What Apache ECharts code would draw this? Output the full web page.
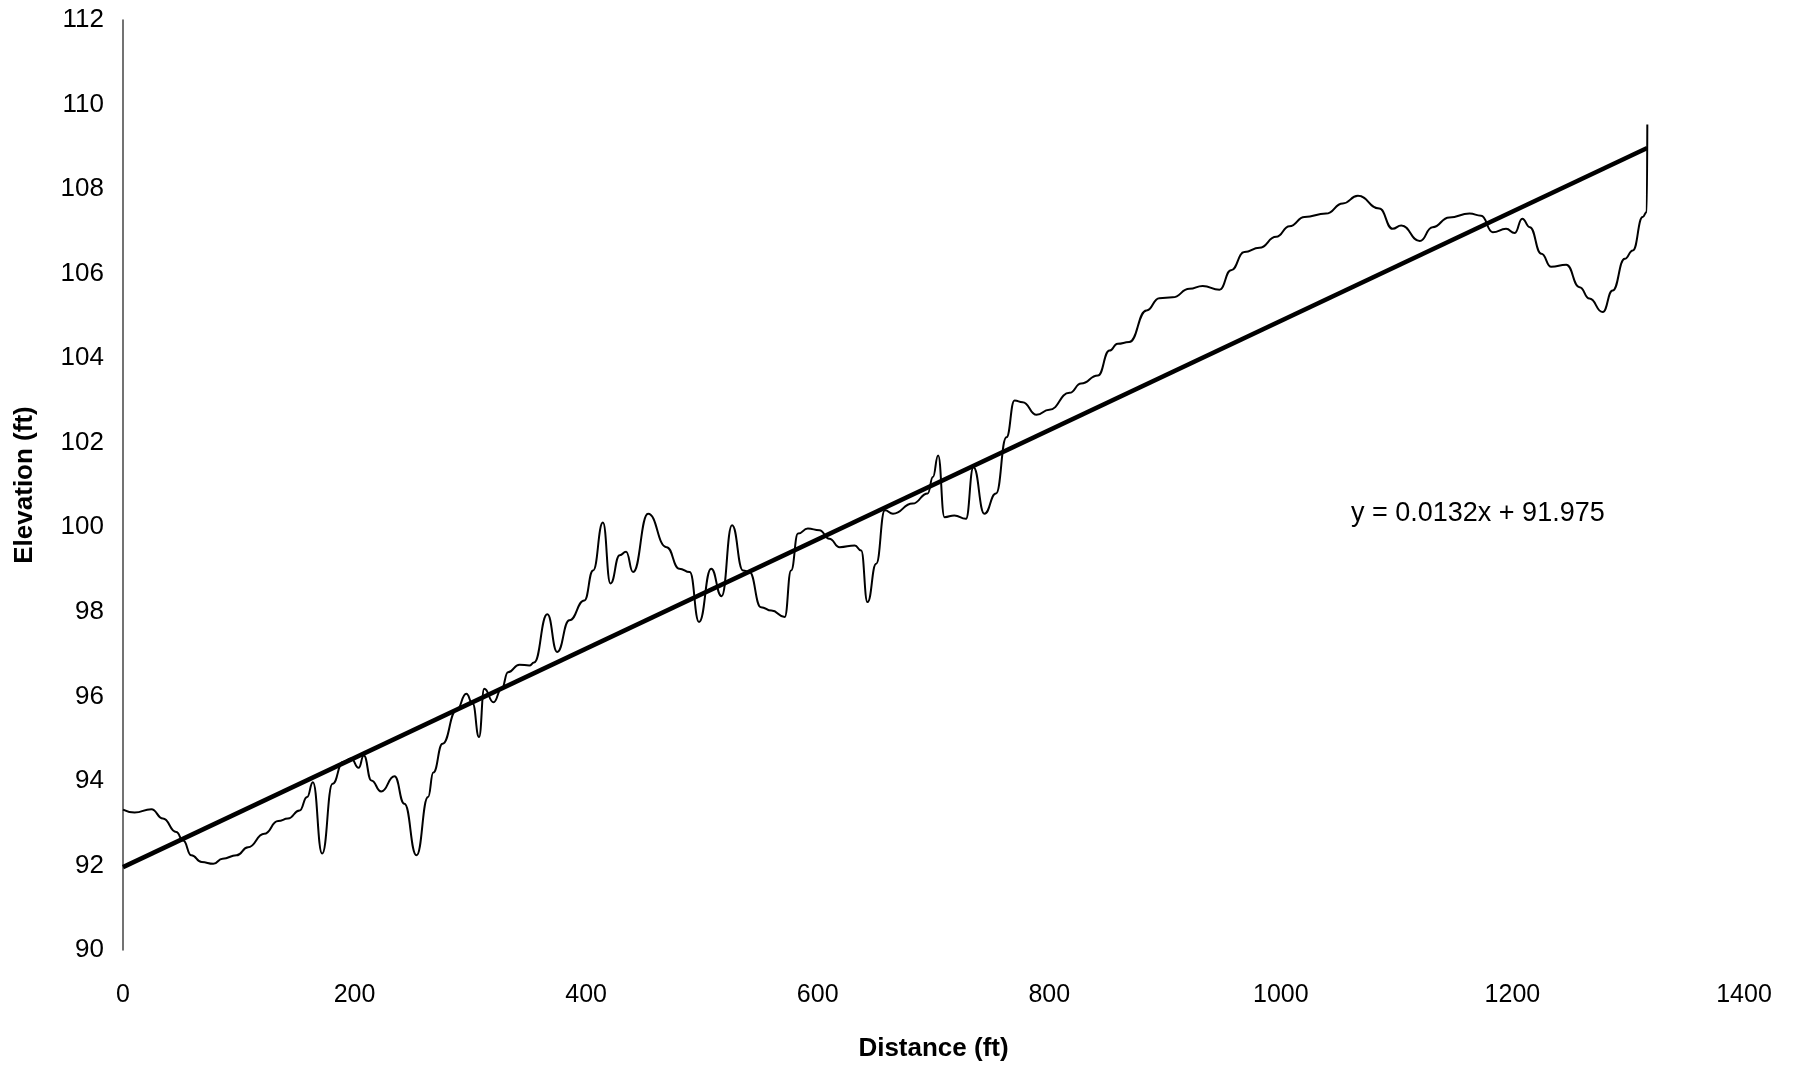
<!DOCTYPE html>
<html>
<head>
<meta charset="utf-8">
<title>Elevation profile</title>
<script src="https://cdn.jsdelivr.net/npm/echarts@6/dist/echarts.min.js"></script>
<style>
  html, body { margin: 0; padding: 0; background: #fff; }
  #chart { width: 1807px; height: 1071px; }
</style>
</head>
<body>
<div id="chart"></div>
<script>
var profileDist = [0, 10, 24.5, 34.5, 46, 52, 59, 68, 78, 86, 98, 108, 122, 134, 142.5, 152.5, 159, 164, 172, 181,
  190, 197, 203.5, 208, 214.5, 223, 234.5, 243, 253.5, 263.5, 268, 276, 288, 296.5, 302, 307.5, 312, 320, 327, 332.5,
  342.5, 351, 355, 366.5, 375, 385.5, 398.5, 406, 414.5, 421, 429, 434.5, 440.5, 453.5, 469.5, 480.5, 489.5, 497.5, 508, 517,
  526, 535.5, 541, 551, 560, 571.5, 577, 583, 591.5, 601.5, 610, 619, 632, 637.5, 643, 650.5, 658, 665, 682, 695,
  699.5, 704, 709.5, 718, 728, 734.5, 744, 754, 763, 770, 777, 789, 800, 817.5, 827.5, 842, 852, 859, 869, 884,
  895, 906.5, 921, 932.5, 947, 957, 968.5, 981.5, 996, 1007.5, 1020.5, 1039, 1053.5, 1066.5, 1085, 1096.5, 1104, 1120, 1131, 1145.5,
  1163, 1173, 1183, 1194.5, 1202, 1208.5, 1215, 1225, 1233.5, 1246.5, 1258, 1266.5, 1278, 1286.5, 1297, 1304, 1312.5, 1316, 1316.5]
var profileElev = [93.32, 93.25, 93.33, 93.11, 92.79, 92.59, 92.24, 92.08, 92.04, 92.16, 92.24, 92.43, 92.75, 93.05, 93.11, 93.3, 93.62, 93.97, 92.28, 93.93,
  94.45, 94.53, 94.31, 94.6, 94.01, 93.75, 94.11, 93.46, 92.24, 93.62, 94.2, 94.88, 95.67, 96.06, 95.83, 95.04, 96.18, 95.86, 96.18, 96.57,
  96.75, 96.73, 96.8, 97.94, 97.05, 97.8, 98.27, 98.98, 100.11, 98.67, 99.34, 99.42, 98.94, 100.32, 99.53, 99.02, 98.94, 97.76, 99.02, 98.37,
  100.05, 98.98, 98.94, 98.11, 98.03, 97.88, 98.98, 99.85, 99.97, 99.93, 99.73, 99.53, 99.57, 99.45, 98.23, 99.14, 100.4, 100.32, 100.56, 100.8,
  101.19, 101.7, 100.24, 100.28, 100.2, 101.42, 100.32, 100.8, 102.13, 103.0, 102.96, 102.66, 102.78, 103.18, 103.4, 103.59, 104.18, 104.34, 104.38, 105.13,
  105.42, 105.44, 105.64, 105.71, 105.62, 106.08, 106.51, 106.61, 106.87, 107.12, 107.34, 107.42, 107.66, 107.84, 107.54, 107.06, 107.14, 106.77, 107.1, 107.33,
  107.42, 107.37, 106.98, 107.06, 106.96, 107.3, 107.1, 106.47, 106.16, 106.21, 105.68, 105.41, 105.09, 105.6, 106.35, 106.55, 107.34, 107.46, 109.53]

// linear trend, end points as drawn
var trendDist = [0, 1316.4]
var trendElev = [91.96, 108.97]
var trendLabel = 'y = 0.0132x + 91.975'

var xTicks = [0, 1400, 200]   // min, max, step
var yTicks = [90, 112, 2]

function pairs (xs, ys) {
  var out = []
  for (var i = 0; i < xs.length; i++) out.push([xs[i], ys[i]])
  return out
}

var font = '"Liberation Sans", Arial, sans-serif'
var myChart = echarts.init(document.getElementById('chart'))
var option = {
  animation: false,
  grid: {
    left: 123,
    right: 63,
    top: 20,
    bottom: 121,
    containLabel: false
  },
  xAxis: {
    type: 'value',
    min: xTicks[0],
    max: xTicks[1],
    interval: xTicks[2],
    name: 'Distance (ft)',
    nameLocation: 'middle',
    nameGap: 86,
    nameTextStyle: { color: '#000', fontFamily: font, fontSize: 26, fontWeight: 'bold' },
    splitLine: { show: false },
    axisLine: { show: false },
    axisTick: { show: false },
    axisLabel: {
      color: '#000', fontFamily: font, fontSize: 25, margin: 33,
      formatter: function (v) { return String(v) }
    }
  },
  yAxis: {
    type: 'value',
    min: yTicks[0],
    max: yTicks[1],
    interval: yTicks[2],
    name: 'Elevation (ft)',
    nameLocation: 'middle',
    nameGap: 85,
    nameTextStyle: { color: '#000', fontFamily: font, fontSize: 26, fontWeight: 'bold' },
    splitLine: { show: false },
    axisLine: { show: true, lineStyle: { color: '#444', width: 1.5 } },
    axisTick: { show: false },
    axisLabel: { color: '#000', fontFamily: font, fontSize: 26, margin: 19 }
  },
  graphic: [{
    type: 'text',
    left: 1351,
    top: 500,
    style: { text: trendLabel, fill: '#000', font: '27px ' + font }
  }],
  series: [
    {
      name: 'Profile',
      type: 'line',
      data: pairs(profileDist, profileElev),
      smooth: 0.5,
      smoothMonotone: 'x',
      showSymbol: false,
      lineStyle: { color: '#000', width: 2 }
    },
    {
      name: 'Linear trend',
      type: 'line',
      data: pairs(trendDist, trendElev),
      showSymbol: false,
      lineStyle: { color: '#000', width: 4.5 }
    }
  ]
}
myChart.setOption(option)
</script>
</body>
</html>
